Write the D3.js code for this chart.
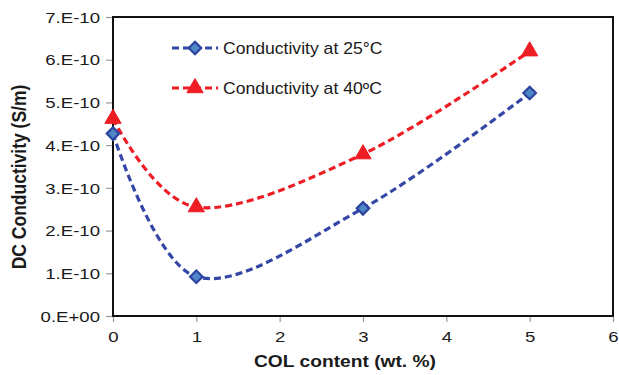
<!DOCTYPE html>
<html>
<head>
<meta charset="utf-8">
<script src="https://cdn.jsdelivr.net/npm/d3@7"></script>
<style>
  body { margin: 0; background: #fff; }
  text { font-family: Arial, 'Liberation Sans', sans-serif; fill: #1a1a1a; }
</style>
</head>
<body>
<svg id="chart" width="619" height="375"></svg>
<script>
// data
var colContent = [0, 1, 3, 5];
var cond25 = [4.27e-10, 0.92e-10, 2.52e-10, 5.22e-10];
var cond40 = [4.62e-10, 2.55e-10, 3.79e-10, 6.2e-10];
var xTicks = [0, 1, 2, 3, 4, 5, 6];
var yTicks = [0, 1e-10, 2e-10, 3e-10, 4e-10, 5e-10, 6e-10, 7e-10];
var seriesNames = ['Conductivity at 25\u00B0C', 'Conductivity at 40\u00BAC'];

var svg = d3.select('#chart');
var m = { left: 113, right: 6, top: 17, bottom: 59 };
var W = 619, H = 375;
var stretch = 1.24; // the source picture is a little wider than tall

var scX = d3.scaleLinear().domain([0, 6]).range([m.left, W - m.right]);
var scY = d3.scaleLinear().domain([0, 7e-10]).range([H - m.bottom, m.top]);

function sciFmt(v) {
  if (v === 0) return '0.E+00';
  var e = Math.floor(Math.log10(v) + 1e-9);
  var mant = Math.round(v / Math.pow(10, e));
  return mant + '.E' + (e < 0 ? '-' : '+') + String(Math.abs(e)).padStart(2, '0');
}

// axes
var yAxis = svg.append('g')
  .attr('transform', 'translate(' + m.left + ',0)')
  .call(d3.axisLeft(scY).tickValues(yTicks).tickFormat(sciFmt).tickSize(7));
var xAxis = svg.append('g')
  .attr('transform', 'translate(0,' + (H - m.bottom) + ')')
  .call(d3.axisBottom(scX).tickValues(xTicks).tickFormat(d3.format('d')).tickSize(6).tickPadding(9));

[yAxis, xAxis].forEach(function (a) {
  a.select('.domain').remove();
  a.selectAll('line').attr('stroke', '#999').attr('stroke-width', 1.2);
  a.selectAll('text')
    .attr('font-size', 15)
    .attr('fill', '#1a1a1a')
    .attr('font-family', 'Arial, Liberation Sans, sans-serif')
    .attr('transform', 'scale(' + stretch + ',1)');
});
yAxis.selectAll('text').attr('x', -13 / stretch).attr('dy', '0.35em');

// plot frame
svg.append('rect')
  .attr('x', m.left)
  .attr('y', m.top)
  .attr('width', W - m.right - m.left)
  .attr('height', H - m.bottom - m.top)
  .attr('fill', 'none')
  .attr('stroke', '#111')
  .attr('stroke-width', 2);

// axis titles
svg.append('text')
  .attr('transform', 'translate(345,367) scale(1.13,1)')
  .attr('text-anchor', 'middle')
  .attr('font-size', 17)
  .attr('font-weight', 'bold')
  .text('COL content (wt. %)');

svg.append('text')
  .attr('transform', 'translate(26,177) scale(1.15,1) rotate(-90)')
  .attr('text-anchor', 'middle')
  .attr('font-size', 17.5)
  .attr('font-weight', 'bold')
  .text('DC Conductivity (S/m)');

var blue = '#3446a6', red = '#ee1d24';
var lnMkr = d3.line()
  .x(function (d) { return scX(d[0]); })
  .y(function (d) { return scY(d[1]); })
  .curve(d3.curveCardinal.tension(0));

var diamond = d3.symbol().type(d3.symbolDiamond2 || d3.symbolSquare).size(d3.symbolDiamond2 ? 100 : 50);
var diaRot = d3.symbolDiamond2 ? '' : ' rotate(45)';
var tri = d3.symbol().type(d3.symbolTriangle).size(115);

function marker(sel, kind, color) {
  sel.attr('d', kind === 'd' ? diamond : tri)
    .attr('fill', kind === 'd' ? '#4f86c6' : color)
    .attr('stroke', kind === 'd' ? '#2c44a0' : color)
    .attr('stroke-width', kind === 'd' ? 2.2 : 1)
    .attr('stroke-linejoin', 'miter');
}

function drawSeries(vals, color, kind) {
  var pts = colContent.map(function (x, i) { return [x, vals[i]]; });
  var g = svg.append('g');
  g.append('path')
    .attr('d', lnMkr(pts))
    .attr('fill', 'none')
    .attr('stroke', color)
    .attr('stroke-width', 3.2)
    .attr('stroke-dasharray', '7,4');
  g.selectAll('path.mk')
    .data(pts)
    .enter()
    .append('path')
    .attr('class', 'mk')
    .call(marker, kind, color)
    .attr('transform', function (d) {
      return 'translate(' + scX(d[0]) + ',' + scY(d[1]) + ')' + (kind === 'd' ? diaRot : '');
    });
}
drawSeries(cond40, red, 't');
drawSeries(cond25, blue, 'd');

// legend
var legend = [
  { name: seriesNames[0], color: blue, kind: 'd', y: 48 },
  { name: seriesNames[1], color: red, kind: 't', y: 88 }
];
legend.forEach(function (l) {
  var g = svg.append('g').attr('transform', 'translate(172,' + l.y + ')');
  g.append('line')
    .attr('x1', 0).attr('x2', 46).attr('y1', 0).attr('y2', 0)
    .attr('stroke', l.color)
    .attr('stroke-width', 3.2)
    .attr('stroke-dasharray', '7,4');
  g.append('path')
    .call(marker, l.kind, l.color)
    .attr('transform', 'translate(23,0)' + (l.kind === 'd' ? diaRot : ''));
  g.append('text')
    .attr('transform', 'translate(51,0) scale(1.1,1)')
    .attr('dy', '0.36em')
    .attr('font-size', 16)
    .text(l.name);
});
</script>
</body>
</html>
